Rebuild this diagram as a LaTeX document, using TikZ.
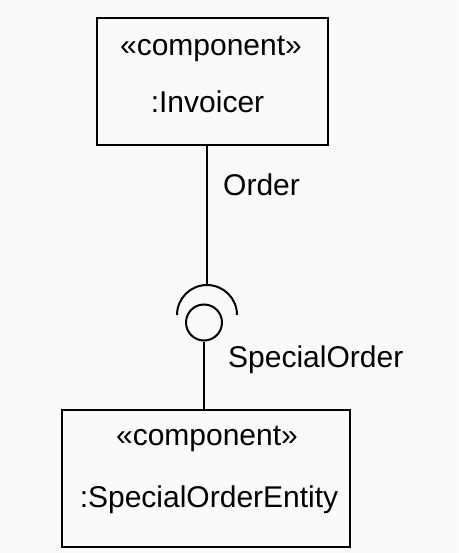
\documentclass[tikz,border=0pt]{standalone}
\usepackage{fontspec}
\setmainfont{Liberation Sans}
\begin{document}
\begin{tikzpicture}[x=1pt, y=-1pt,
    comp/.style={draw, line width=2pt, inner sep=0pt},
    lbl/.style={font=\fontsize{30}{36}\selectfont, inner sep=0pt},
    wire/.style={line width=2pt}]
    \useasboundingbox[fill=gray!4] (0,0) rectangle (458,553);

    \node[comp, minimum width=231pt, minimum height=127pt] (invoicer) at (212.5,81.5) {};
    \node[lbl, anchor=base] (invster) at (211,56) {«component»};
    \node[lbl, anchor=base] (invname) at (207.5,113) {:Invoicer};

    \node[comp, minimum width=288pt, minimum height=137pt] (entity) at (206,478.5) {};
    \node[lbl, anchor=base] (entster) at (207,445) {«component»};
    \node[lbl, anchor=base] (entname) at (209,507) {:SpecialOrderEntity};

    \coordinate (socket) at (207,315);
    \coordinate (socktop) at (207,285);
    \node[draw, circle, line width=2pt, minimum size=36pt, inner sep=0pt] (ball) at (204,322.5) {};

    \draw[wire] (invoicer.south -| socktop) -- (socktop);
    \draw[wire] (socket) ++(-30pt,0) arc[start angle=180, end angle=0, radius=30pt];
    \draw[wire] (ball.south) -- (ball.south |- entity.north);

    \node[lbl, anchor=base west] (order) at (223,196) {Order};
    \node[lbl, anchor=base west] (special) at (228,367) {SpecialOrder};
\end{tikzpicture}
\end{document}
